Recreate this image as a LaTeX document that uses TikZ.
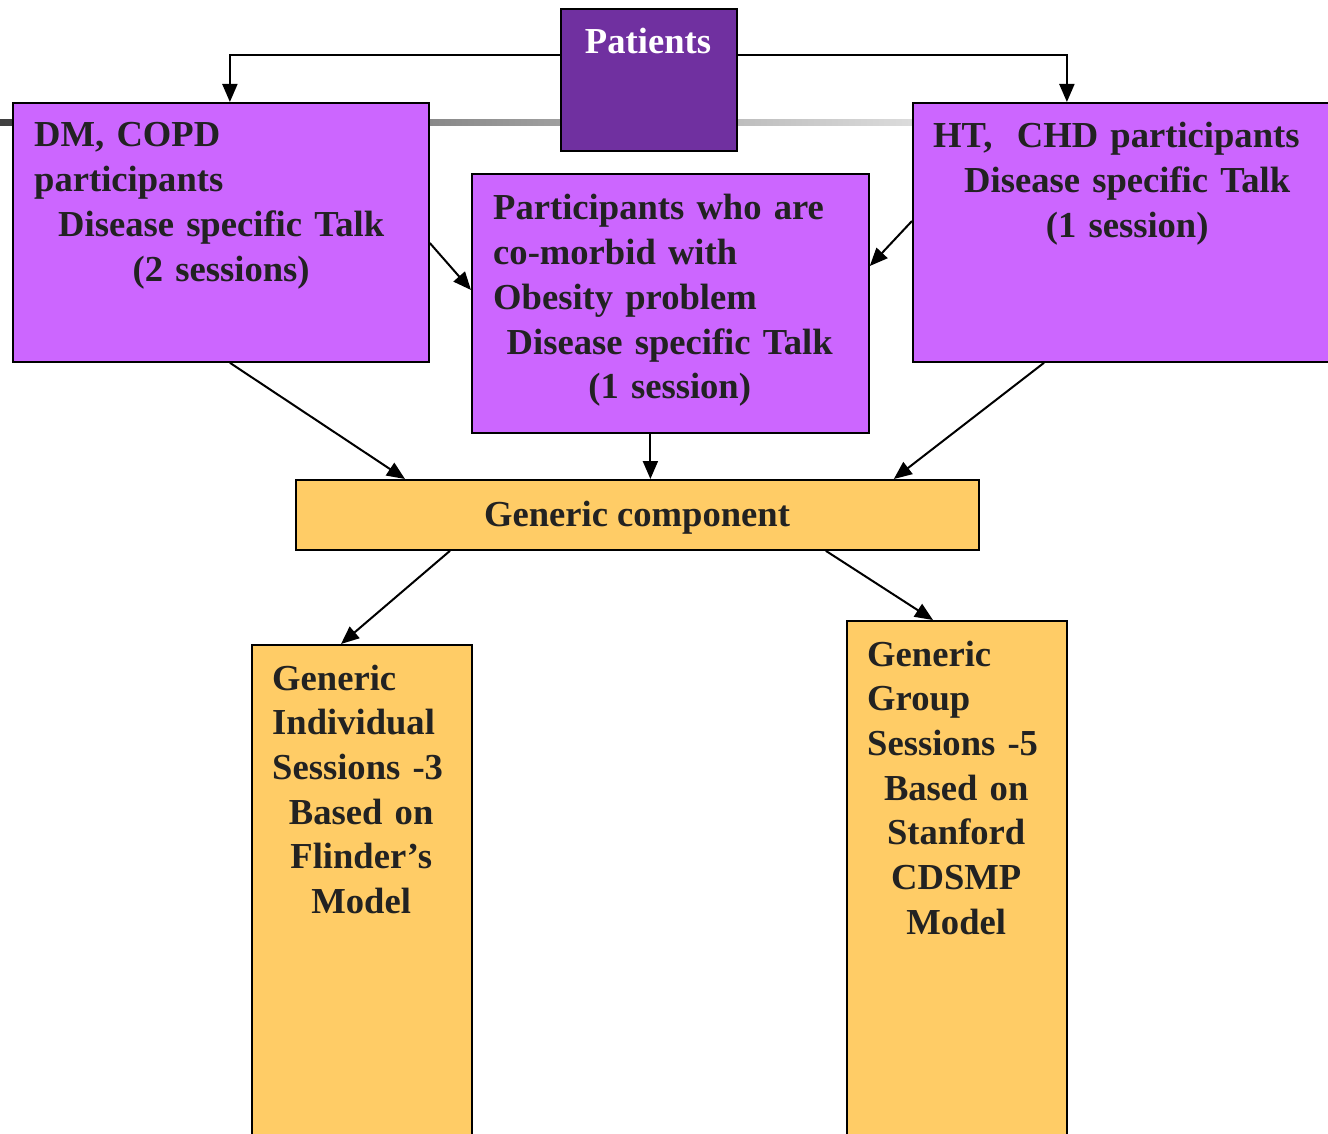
\documentclass[tikz,border=0pt]{standalone}
\usepackage{fontspec}
\setmainfont{Liberation Serif}
\usetikzlibrary{arrows.meta}
\definecolor{purpD}{HTML}{7030A0}
\definecolor{purpL}{HTML}{CC66FF}
\definecolor{goldB}{HTML}{FFCC66}
\definecolor{ink}{HTML}{222222}
\begin{document}
\begin{tikzpicture}[x=1pt,y=-1pt,
  box/.style={draw=black, line width=1.8pt, rectangle, anchor=north west, inner sep=0pt},
  txt/.style={anchor=base west, inner sep=0pt, align=left, font=\fontsize{36.6}{44.7}\selectfont\bfseries, text=ink},
  ctxt/.style={anchor=base, inner sep=0pt, font=\fontsize{36.6}{44.7}\selectfont\bfseries, text=ink},
  arr/.style={line width=2pt, -{Triangle[length=18pt,width=15pt]}}]
\clip (0,0) rectangle (1328,1134);
\fill[white] (0,0) rectangle (1328,1134);
% gradient band
\shade[left color=black!75, right color=black!14] (0,120) rectangle (912,126);
% boxes
\node[box, fill=purpD, minimum width=176pt, minimum height=142pt] (pat) at (560,8) {};
\node[box, fill=purpL, minimum width=416pt, minimum height=259pt] (dm) at (12,102) {};
\node[box, fill=purpL, minimum width=397pt, minimum height=259pt] (mid) at (471,173) {};
\node[box, fill=purpL, minimum width=440pt, minimum height=259pt] (ht) at (912,102) {};
\node[box, fill=goldB, minimum width=683pt, minimum height=70pt] (gen) at (295,479) {};
\node[box, fill=goldB, minimum width=220pt, minimum height=520pt] (ind) at (251,644) {};
\node[box, fill=goldB, minimum width=220pt, minimum height=540pt] (grp) at (846,620) {};
% texts
\node[ctxt, text=white] (patt) at (648,54) {Patients};
\node[txt, text width=374pt] (dmt) at (34,147) {DM, COPD\\participants\\\makebox[\linewidth]{Disease specific Talk}\\\makebox[\linewidth]{(2 sessions)}};
\node[txt, text width=353pt] (midt) at (493,220) {Participants who are\\co-morbid with\\Obesity problem\\\makebox[\linewidth]{Disease specific Talk}\\\makebox[\linewidth]{(1 session)}};
\node[txt, text width=388pt] (htt) at (933,148) {HT,\ \ CHD participants\\\makebox[\linewidth]{Disease specific Talk}\\\makebox[\linewidth]{(1 session)}};
\node[ctxt] (gent) at (637,526) {Generic component};
\node[txt, text width=178pt] (indt) at (272,690) {Generic\\Individual\\Sessions -3\\\makebox[\linewidth]{Based on}\\\makebox[\linewidth]{Flinder’s}\\\makebox[\linewidth]{Model}};
\node[txt, text width=178pt] (grpt) at (867,666) {Generic\\Group\\Sessions -5\\\makebox[\linewidth]{Based on}\\\makebox[\linewidth]{Stanford}\\\makebox[\linewidth]{CDSMP}\\\makebox[\linewidth]{Model}};
% connectors
\draw[arr] ([yshift=-47pt]pat.north west) -| ([xshift=9pt]dm.north);
\draw[arr] ([yshift=-47pt]pat.north east) -| ([xshift=-66pt]ht.north);
\draw[arr] ([yshift=-141pt]dm.north east) -- ([yshift=-117pt]mid.north west);
\draw[arr] ([yshift=-119pt]ht.north west) -- ([yshift=-93pt]mid.north east);
\draw[arr] ([xshift=9pt]dm.south) -- ([xshift=110pt]gen.north west);
\draw[arr] ([xshift=-20pt]mid.south) -- ([xshift=-20pt]mid.south |- gen.north);
\draw[arr] ([xshift=132pt]ht.south west) -- ([xshift=-86pt]gen.north east);
\draw[arr] ([xshift=155pt]gen.south west) -- ([xshift=90pt]ind.north west);
\draw[arr] ([xshift=-154pt]gen.south east) -- ([xshift=87pt]grp.north west);
\end{tikzpicture}
\end{document}
